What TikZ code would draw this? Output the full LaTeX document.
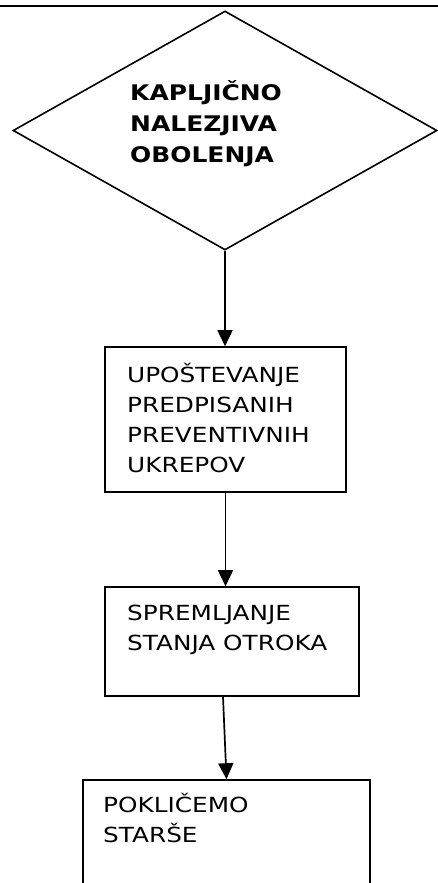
\documentclass[tikz,border=0pt]{standalone}
\usepackage{fontspec}
\newfontfamily\vfont[FakeStretch=1.19]{DejaVu Sans}
\newfontfamily\vbfont[FakeStretch=1.16]{DejaVu Sans Bold}
\usetikzlibrary{arrows.meta,shapes.geometric,calc}
\begin{document}
\begin{tikzpicture}[x=1pt,y=-1pt,
  flowbox/.style={draw,rectangle,line width=1.6pt,inner sep=0pt},
  flowarrow/.style={line width=1.7pt,-{Triangle[width=15pt,length=16pt]}},
  boxtext/.style={anchor=base west,inner sep=0pt,align=left,font=\vfont\fontsize{20.8}{30}\selectfont},
  headtext/.style={anchor=base west,inner sep=0pt,align=left,font=\vbfont\fontsize{21.5}{31}\selectfont}]
\useasboundingbox (0,0) rectangle (438,883);
\clip (0,0) rectangle (438,883);
\coordinate (tl) at (0,6);
\coordinate (tr) at (438,6);
\draw[line width=2.8pt] (tl) -- (tr);
\node[draw,diamond,line width=1.6pt,minimum width=424pt,minimum height=239pt,inner sep=0pt] (d) at (225,130.5) {};
\node[headtext] (dt) at (130,162) {KAPLJIČNO\\NALEZJIVA\\OBOLENJA};
\node[flowbox,minimum width=241pt,minimum height=145pt] (b1) at (225.5,419.5) {};
\node[boxtext] (t1) at (127,472) {UPOŠTEVANJE\\PREDPISANIH\\PREVENTIVNIH\\UKREPOV};
\node[flowbox,minimum width=254pt,minimum height=109pt] (b2) at (232,641.5) {};
\node[boxtext] (t2) at (127,650) {SPREMLJANJE\\STANJA OTROKA};
\node[flowbox,minimum width=287pt,minimum height=180pt] (b3) at (226.5,870) {};
\node[boxtext] (t3) at (103,842) {POKLIČEMO\\STARŠE};
\draw[flowarrow] (d.south) -- (d.south |- b1.north);
\draw[flowarrow] (b1.south) -- (b1.south |- b2.north);
\draw[flowarrow] ([xshift=-9pt]b2.south) -- (b3.north);
\end{tikzpicture}
\end{document}
